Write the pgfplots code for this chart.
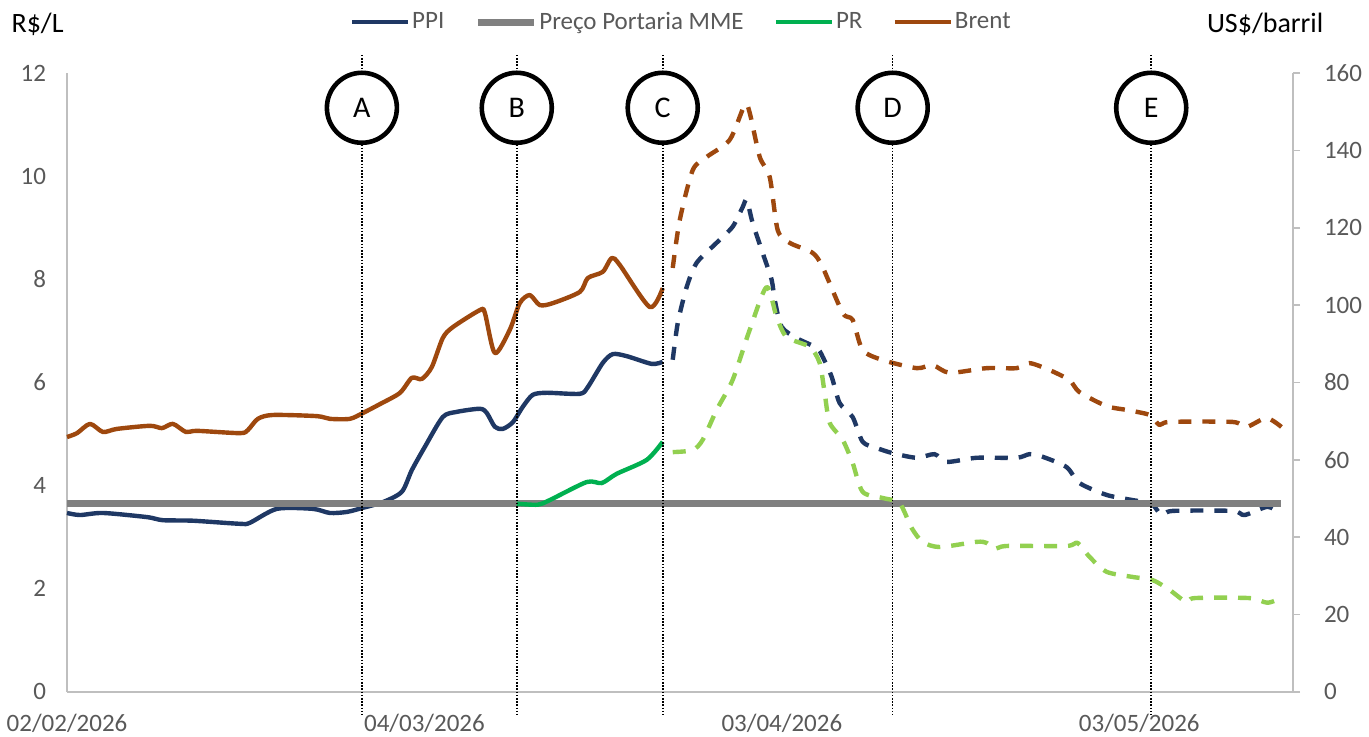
\documentclass[border=0pt]{standalone}
\usepackage{pgfplots}
\pgfplotsset{compat=1.18}
\usepackage{fontspec}
\setmainfont{Carlito}

\definecolor{ppi}{RGB}{31,56,100}
\definecolor{brent}{RGB}{158,72,14}
\definecolor{prsolid}{RGB}{0,176,80}
\definecolor{prdash}{RGB}{146,208,80}
\definecolor{mme}{RGB}{128,128,128}
\definecolor{axisgray}{RGB}{191,191,191}
\definecolor{textgray}{RGB}{89,89,89}

\pgfplotsset{
  dashedser/.style={dash pattern=on 6.5pt off 5.5pt},
  ser/.style={line width=2.2pt, smooth, tension=0.45},
  base/.style={
    scale only axis, width=613pt, height=309.5pt,
    xmin=0, xmax=102.9,
    clip=false,
    /pgf/number format/assume math mode=true,
    tick label style={font=\fontsize{12.5}{14}\selectfont, text=textgray},
    axis line style={draw=axisgray, line width=0.8pt},
  },
}

\begin{document}
\begin{tikzpicture}[line cap=round, line join=round]
\begin{axis}[base,
  axis x line*=bottom, axis y line*=left,
  ymin=0, ymax=12, ytick={0,2,...,12},
  xtick={0,30,60,90},
  xticklabels={02/02/2026,04/03/2026,03/04/2026,03/05/2026},
  major tick length=0pt,
  yticklabel style={xshift=-7pt},
  xticklabel style={yshift=-7.5pt},
  legend columns=4,
  legend style={draw=none, fill=none, at={(axis description cs:0.501,1.082)}, anchor=center,
    font=\fontsize{12.5}{14}\selectfont, text=textgray,
    /tikz/every even column/.append style={column sep=14pt},
    nodes={inner sep=1pt}},
  legend image code/.code={\draw[#1] (0pt,0pt) -- (28pt,0pt);},
]
% PPI
\addplot[ppi, ser] coordinates {
(0,3.47) (1.09,3.43) (3.02,3.47) (6.71,3.39) (8.05,3.33) (10.57,3.32) (14.51,3.26)
(15.35,3.28) (17.62,3.55) (20.64,3.55) (22.06,3.47) (23.49,3.49) (24.83,3.57)
(26.51,3.68) (28.10,3.88) (28.94,4.30) (30.03,4.75) (31.54,5.33) (32.72,5.43)
(34.65,5.49) (35.23,5.41) (35.91,5.14) (36.58,5.10) (37.42,5.23) (38.26,5.53)
(39.09,5.76) (40.27,5.80) (43.04,5.78) (43.71,5.91) (44.97,6.38) (45.81,6.55)
(46.98,6.51) (49.08,6.36) (50.0,6.40)
};
\addlegendentry{PPI}
\addplot[ppi, ser, dashedser, forget plot] coordinates {
(50.84,6.44) (51.26,7.15) (52.01,7.85) (52.85,8.32) (54.53,8.71) (55.87,9.02)
(56.71,9.40) (57.05,9.54) (57.55,9.09) (58.39,8.51) (59.14,7.99) (59.40,7.60)
(59.98,7.08) (61.24,6.86) (62.92,6.67) (63.42,6.50) (64.18,6.11) (64.85,5.60)
(65.94,5.33) (66.78,4.85) (67.95,4.73) (69.30,4.63) (71.31,4.54) (72.82,4.61)
(73.83,4.46) (76.34,4.54) (79.70,4.54) (80.79,4.61) (81.88,4.56) (83.89,4.36)
(84.98,4.05) (87.25,3.82) (89.43,3.72) (91.02,3.65) (91.86,3.43) (92.79,3.51)
(97.82,3.51) (98.83,3.43) (100.75,3.59) (101.76,3.47)
};
% Preco Portaria MME
\addplot[mme, line width=3.5pt] coordinates {(0,3.65) (101.9,3.65)};
\addlegendentry{Preço Portaria MME}
% PR
\addplot[prsolid, ser] coordinates {
(37.75,3.65) (39.51,3.63) (40.52,3.72) (43.62,4.07) (44.88,4.05) (46.14,4.23)
(48.66,4.50) (50.0,4.85)
};
\addlegendentry{PR}
\addplot[prdash, ser, dashedser, forget plot] coordinates {
(50.84,4.65) (52.52,4.69) (53.36,4.89) (54.53,5.47) (55.87,6.05) (57.30,7.02)
(58.72,7.85) (59.56,7.27) (60.40,6.88) (62.33,6.69) (63.17,6.38) (63.59,5.80)
(64.01,5.22) (65.10,4.89) (65.94,4.44) (66.78,3.88) (68.46,3.76) (69.88,3.66)
(70.89,3.18) (71.81,2.91) (73.24,2.81) (76.34,2.91) (77.18,2.89) (77.85,2.77)
(78.86,2.83) (83.89,2.83) (84.82,2.89) (85.82,2.62) (87.25,2.33) (89.43,2.23)
(91.11,2.17) (92.53,1.98) (93.96,1.74) (94.63,1.82) (99.24,1.82) (100.75,1.73)
(101.93,1.82)
};
\addlegendimage{brent, line width=2.2pt}
\addlegendentry{Brent}

\node[anchor=west, font=\fontsize{14}{16}\selectfont] at (axis description cs:-0.051,1.078) {R\$/L};
\node[anchor=east, font=\fontsize{14}{16}\selectfont] at (axis description cs:1.0305,1.078) {US\$/barril};

\coordinate (bl) at (axis description cs:-0.05465,-0.0727);
\coordinate (tr) at (axis description cs:1.0620,1.1179);
\end{axis}

\begin{axis}[base,
  axis y line*=right, axis x line=none,
  ymin=0, ymax=160, ytick={0,20,...,160},
  tick align=outside, major tick length=3.5pt,
  ytick style={draw=axisgray, line width=0.8pt},
  yticklabel style={xshift=8.5pt},
]
\addplot[brent, ser] coordinates {
(0,65.9) (0.84,66.9) (1.93,69.3) (3.02,67.2) (4.19,68.0) (6.96,68.8) (7.97,68.2)
(8.89,69.3) (9.98,67.2) (10.91,67.5) (14.51,66.9) (15.18,67.7) (16.02,70.6)
(17.28,71.6) (20.97,71.3) (22.06,70.6) (23.74,70.6) (24.83,72.1) (26.26,74.4)
(27.94,77.3) (28.94,81.2) (29.78,80.9) (30.62,84.0) (31.54,91.5) (32.38,94.3)
(34.65,98.7) (35.07,98.0) (35.91,87.6) (37.16,93.6) (38.00,100.5) (38.84,102.6)
(39.68,100.0) (40.77,100.5) (43.04,103.4) (43.71,107.0) (44.97,108.6)
(45.72,112.2) (46.39,110.4) (48.91,99.5) (50.0,104.4)
};
\addplot[brent, ser, dashedser] coordinates {
(50.84,109.6) (51.43,122.0) (52.52,134.9) (53.69,138.3) (55.62,142.7)
(56.88,151.7) (57.30,149.7) (58.14,138.3) (58.98,133.1) (59.65,119.4)
(60.65,116.1) (62.58,113.5) (63.42,109.8) (65.10,98.0) (65.94,96.2)
(66.78,88.4) (68.46,85.8) (71.31,83.7) (72.65,84.5) (74.08,82.5) (77.18,83.7)
(79.70,83.7) (80.79,85.0) (82.47,83.2) (84.14,80.6) (84.98,77.5) (87.25,73.9)
(88.93,72.9) (90.86,71.6) (91.69,69.0) (92.53,69.8) (97.82,69.8) (98.99,68.5)
(100.67,70.8) (101.93,68.5)
};
% event markers A-E
\foreach \xe/\lab in {24.75/A,37.75/B,50.0/C,69.3/D,91.0/E}{
  \edef\tmp{\noexpand\draw[black, line width=0.8pt, dash pattern=on 0.8pt off 0.8pt, line cap=butt]
    (axis cs:\xe,164.7) -- (axis cs:\xe,-6);
  \noexpand\node[circle, draw=black, line width=2.3pt, fill=white, minimum size=35pt, inner sep=0pt,
    font=\noexpand\fontsize{15}{17}\noexpand\selectfont] at (axis cs:\xe,151) {\lab};}
  \tmp
}
\end{axis}
\pgfresetboundingbox
\path[use as bounding box] (bl) rectangle (tr);
\end{tikzpicture}
\end{document}
